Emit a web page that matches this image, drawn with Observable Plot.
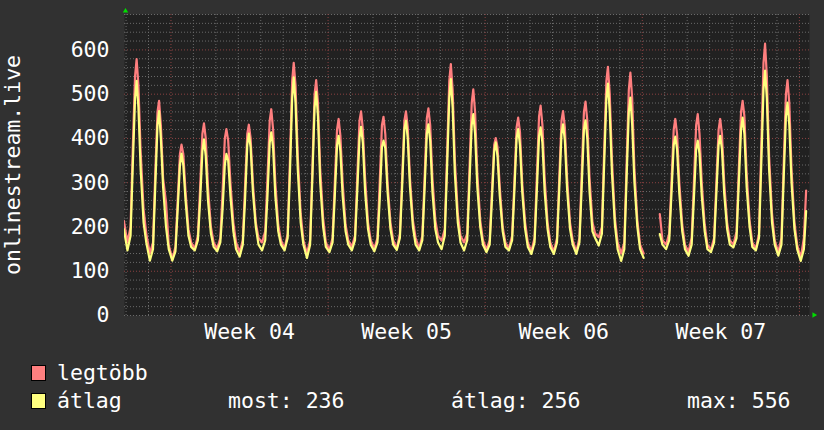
<!DOCTYPE html>
<html><head><meta charset="utf-8">
<script src="https://cdn.jsdelivr.net/npm/d3@7"></script>
<script src="https://cdn.jsdelivr.net/npm/@observablehq/plot@0.6"></script>
<style>
html,body{margin:0;padding:0;background:#313131;}
#wrap{width:824px;height:430px;position:relative;overflow:hidden;}
</style></head><body><div id="wrap"></div>
<script>
const n = null;
// day index of the first row, and sample positions within each day (fraction of a day)
const firstDay = -1;
const dayOffsets = [0.06, 0.2, 0.3, 0.4, 0.47, 0.55, 0.65, 0.78, 0.9];

// "legtöbb" (maximum) series, one row per day
const legtobb = [
  [n, n, n, n, n, n, n, n, 214],
  [165, 200, 380, 540, 579, 520, 370, 240, 185],
  [140, 165, 320, 460, 485, 430, 310, 256, 160],
  [127, 155, 260, 365, 386, 365, 280, 195, 165],
  [151, 180, 290, 410, 434, 400, 290, 200, 165],
  [151, 175, 280, 400, 421, 395, 300, 210, 165],
  [143, 170, 290, 410, 431, 400, 300, 210, 175],
  [165, 190, 310, 440, 466, 420, 300, 205, 170],
  [151, 185, 350, 530, 571, 520, 360, 230, 170],
  [140, 170, 330, 500, 532, 480, 330, 220, 165],
  [148, 175, 300, 420, 444, 405, 300, 205, 170],
  [155, 180, 310, 440, 461, 420, 310, 210, 170],
  [151, 175, 300, 430, 449, 410, 300, 210, 170],
  [151, 185, 310, 440, 461, 425, 310, 215, 175],
  [151, 180, 310, 445, 468, 430, 310, 215, 180],
  [169, 195, 360, 530, 568, 510, 350, 230, 180],
  [165, 185, 330, 480, 511, 460, 320, 215, 170],
  [149, 170, 280, 385, 401, 380, 290, 200, 165],
  [151, 180, 300, 425, 447, 415, 300, 210, 165],
  [145, 175, 310, 450, 474, 430, 310, 210, 165],
  [144, 175, 310, 440, 462, 425, 310, 210, 170],
  [144, 175, 320, 460, 483, 440, 310, 210, 185],
  [177, 200, 370, 530, 562, 500, 350, 220, 165],
  [140, 165, 340, 510, 549, 490, 330, 215, 160],
  [140, n, n, n, n, n, n, 229, 170],
  [160, 185, 300, 420, 444, 410, 300, 205, 160],
  [144, 175, 300, 430, 455, 410, 300, 205, 160],
  [149, 175, 300, 420, 444, 410, 300, 210, 170],
  [160, 190, 330, 460, 485, 450, 320, 215, 165],
  [151, 185, 380, 570, 614, 540, 360, 230, 170],
  [143, 175, 340, 500, 532, 480, 330, 210, 160],
  [130, 175, 282, n, n, n, n, n, n]
];

// "átlag" (average) series, one row per day
const atlag = [
  [n, n, n, n, n, n, n, n, 195],
  [147, 180, 340, 490, 530, 470, 330, 210, 165],
  [124, 150, 290, 430, 462, 400, 290, 200, 150],
  [124, 145, 240, 340, 366, 340, 260, 180, 155],
  [147, 170, 260, 370, 398, 360, 260, 185, 155],
  [145, 165, 240, 340, 365, 350, 270, 190, 150],
  [133, 160, 260, 385, 411, 380, 280, 200, 160],
  [147, 170, 270, 390, 414, 380, 270, 190, 160],
  [147, 175, 320, 490, 538, 480, 330, 210, 160],
  [130, 160, 310, 470, 505, 450, 300, 200, 155],
  [143, 165, 270, 385, 406, 370, 270, 190, 160],
  [147, 170, 280, 400, 426, 390, 280, 195, 160],
  [145, 165, 260, 380, 395, 378, 280, 195, 160],
  [148, 175, 290, 420, 440, 400, 290, 200, 160],
  [147, 170, 285, 410, 432, 395, 280, 195, 165],
  [150, 180, 330, 490, 534, 470, 320, 210, 165],
  [147, 170, 300, 430, 455, 410, 290, 200, 160],
  [143, 160, 260, 370, 391, 360, 270, 190, 155],
  [147, 170, 280, 400, 421, 385, 280, 195, 155],
  [139, 165, 280, 405, 425, 390, 280, 195, 155],
  [139, 165, 285, 410, 432, 395, 285, 195, 160],
  [139, 165, 290, 420, 441, 400, 280, 190, 175],
  [158, 185, 340, 490, 524, 460, 320, 205, 150],
  [123, 150, 310, 460, 492, 430, 300, 200, 150],
  [130, n, n, n, n, n, n, 184, 160],
  [150, 170, 275, 385, 404, 375, 275, 190, 150],
  [135, 160, 265, 375, 395, 365, 270, 190, 150],
  [143, 165, 275, 385, 406, 375, 275, 195, 160],
  [154, 175, 300, 420, 447, 410, 290, 200, 155],
  [147, 175, 340, 510, 553, 490, 330, 210, 160],
  [135, 160, 310, 450, 481, 430, 300, 195, 150],
  [123, 150, 236, n, n, n, n, n, n]
];

const weekTicks = [5.5, 12.5, 19.5, 26.5];
const weekLabels = ["Week 04", "Week 05", "Week 06", "Week 07"];
const weekStarts = [2, 9, 16, 23, 30];
const yTicks = [0, 100, 200, 300, 400, 500, 600];
const yLabel = "onlinestream.live";
const seriesNames = ["legtöbb", "átlag"];
const seriesColors = ["#ff7f7f", "#ffff7f"];
const statsLabels = ["most: 236", "átlag: 256", "max: 556"];

function toRows(table) {
  const out = [];
  table.forEach((row, i) => row.forEach((v, j) => {
    out.push({t: firstDay + i + dayOffsets[j], v: v == null ? NaN : v});
  }));
  return out;
}
const maxRows = toRows(legtobb);
const avgRows = toRows(atlag);

const minorY = d3.range(0, 681, 20).filter(v => v % 100 !== 0 || v === 0);
const majorY = yTicks.filter(v => v > 0);
const minorX = d3.range(0, 31).filter(d => !weekStarts.includes(d));

const FONT = "DejaVu Sans Mono";
const FS = 21.5;

const chart = Plot.plot({
  width: 824,
  height: 350,
  marginLeft: 124,
  marginRight: 15,
  marginTop: 14,
  marginBottom: 35,
  style: {background: "transparent", color: "#ffffff", fontFamily: FONT, fontSize: FS + "px"},
  x: {domain: [-0.07, 30.45]},
  y: {domain: [0, 680]},
  marks: [
    Plot.frame({fill: "#212121", stroke: null}),
    Plot.ruleY(minorY, {stroke: "#6a6a6a", strokeDasharray: "1,2", strokeWidth: 1}),
    Plot.ruleX(minorX, {stroke: "#6a6a6a", strokeDasharray: "1,2", strokeWidth: 1}),
    Plot.ruleY(majorY, {stroke: "#8c4242", strokeDasharray: "1,2", strokeWidth: 1}),
    Plot.ruleX(weekStarts, {stroke: "#8c4242", strokeDasharray: "1,2", strokeWidth: 1}),
    Plot.line(maxRows, {x: "t", y: "v", stroke: seriesColors[0], strokeWidth: 2.2, clip: true, curve: "linear"}),
    Plot.line(avgRows, {x: "t", y: "v", stroke: seriesColors[1], strokeWidth: 2.2, clip: true, curve: "linear"}),
    Plot.axisY(yTicks, {tickSize: 0, tickPadding: 15, fontSize: FS, label: null, fill: "#ffffff"}),
    Plot.axisX(weekTicks, {tickSize: 0, tickPadding: 8, fontSize: FS, label: null, fill: "#ffffff",
      tickFormat: (d, i) => weekLabels[weekTicks.indexOf(d)]}),
    Plot.text([yLabel], {frameAnchor: "left", dx: -111, rotate: -90, fontSize: FS, fill: "#ffffff", textAnchor: "middle", lineAnchor: "middle"}),
    Plot.dot([0], {frameAnchor: "top-left", dx: 1, dy: -3.5, symbol: "triangle", r: 2, fill: "#00dd00", stroke: null}),
    Plot.dot([0], {frameAnchor: "bottom-right", dx: 4.5, dy: -0.5, symbol: "triangle", rotate: 90, r: 2, fill: "#00dd00", stroke: null})
  ]
});
document.getElementById("wrap").appendChild(chart);

// legend below the plot
const leg = d3.select("#wrap").append("svg")
  .attr("width", 824).attr("height", 80)
  .style("display", "block")
  .style("font-family", FONT).style("font-size", FS + "px");
seriesNames.forEach((name, i) => {
  const base = 30 + i * 28;
  leg.append("rect").attr("x", 31.5).attr("y", base - 14.5).attr("width", 14).attr("height", 15)
    .attr("fill", seriesColors[i]).attr("stroke", "#000").attr("stroke-width", 1);
  leg.append("text").attr("x", 57).attr("y", base).attr("fill", "#fff").text(name);
});
const statX = [228, 451, 687];
statsLabels.forEach((s, i) => {
  leg.append("text").attr("x", statX[i]).attr("y", 58).attr("fill", "#fff").text(s);
});
</script></body></html>
